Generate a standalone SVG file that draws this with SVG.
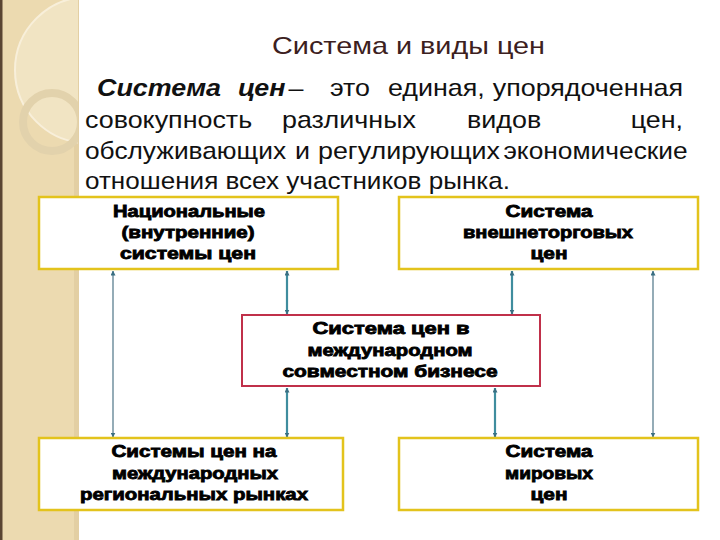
<svg xmlns="http://www.w3.org/2000/svg" width="720" height="540" viewBox="0 0 720 540">
<defs>
<style>
.para{font-family:"Liberation Sans",Arial,sans-serif;font-size:24px;fill:#111}
.bi{font-weight:bold;font-style:italic}
.end{text-anchor:end}
.title{font-family:"Liberation Sans",Arial,sans-serif;font-size:24px;fill:#3c2020}
.lbl{font-family:"Liberation Sans",Arial,sans-serif;font-size:16px;font-weight:bold;fill:#000;stroke:#000;stroke-width:0.8px;text-anchor:middle}
.box{fill:#fff;stroke:#e3c31c;stroke-width:2.5}
.boxr{fill:#fff;stroke:#c0304a;stroke-width:2}
.cthin{stroke:#4d7587;stroke-width:1.2;fill:none;marker-start:url(#ah);marker-end:url(#ah)}
.cthick{stroke:#3f8d9e;stroke-width:2.2;fill:none;marker-start:url(#ah);marker-end:url(#ah)}
</style>
<marker id="ah" viewBox="0 0 10 10" refX="9" refY="5" markerWidth="5" markerHeight="5" orient="auto-start-reverse" markerUnits="userSpaceOnUse">
<path d="M0,0 L10,5 L0,10 z" fill="#3a6f82"/>
</marker>
<clipPath id="band"><rect x="0" y="0" width="78" height="540"/></clipPath>
</defs>
<rect x="0" y="0" width="720" height="540" fill="#fff"/>
<g id="decor">
<rect x="0" y="0" width="78" height="540" fill="#ecdab0"/>
<rect x="74" y="0" width="5" height="540" fill="#e3cfa3"/>
<rect x="0" y="0" width="2.5" height="540" fill="#5a4532"/>
<g clip-path="url(#band)">
<circle cx="88" cy="70" r="73" fill="#f1e4c3" stroke="#f8efda" stroke-width="2"/>
<circle cx="52" cy="122" r="29" fill="none" stroke="#e2d2ac" stroke-width="8"/>
</g>
</g>
<g id="title">
<text class="title" x="272" y="54" textLength="273" lengthAdjust="spacingAndGlyphs">Система и виды цен</text>
</g>
<g id="definition" transform="scale(1.12,1)">
<text class="para bi" x="86.6" y="96">Система</text>
<text class="para bi" x="212.5" y="96">цен</text>
<text class="para" x="257.5" y="96">–</text>
<text class="para" x="294.6" y="96">это</text>
<text class="para" x="346.4" y="96">единая,</text>
<text class="para end" x="609.8" y="96">упорядоченная</text>
<text class="para" x="75.9" y="128">совокупность</text>
<text class="para" x="251.8" y="128">различных</text>
<text class="para" x="417" y="128">видов</text>
<text class="para end" x="609.8" y="128">цен,</text>
<text class="para" x="75.9" y="159" textLength="179.5" lengthAdjust="spacingAndGlyphs">обслуживающих</text>
<text class="para" x="263.4" y="159">и</text>
<text class="para" x="283.9" y="159" textLength="162.5" lengthAdjust="spacingAndGlyphs">регулирующих</text>
<text class="para" x="449.5" y="159" textLength="164.5" lengthAdjust="spacingAndGlyphs">экономические</text>
<text class="para" x="75.9" y="189" textLength="379.5" lengthAdjust="spacingAndGlyphs">отношения всех участников рынка.</text>
</g>
<g id="connectors">
<line class="cthin" x1="113" y1="271" x2="113" y2="437"/>
<line class="cthin" x1="653" y1="271" x2="653" y2="437"/>
<line class="cthick" x1="287" y1="271" x2="287" y2="314"/>
<line class="cthick" x1="512" y1="271" x2="512" y2="314"/>
<line class="cthick" x1="287" y1="388" x2="287" y2="437"/>
<line class="cthick" x1="495" y1="388" x2="495" y2="437"/>
</g>
<g id="national">
<rect class="box" x="39" y="197" width="299" height="72"/>
<text class="lbl" x="189" y="217" textLength="152" lengthAdjust="spacingAndGlyphs">Национальные</text>
<text class="lbl" x="188" y="238" textLength="133" lengthAdjust="spacingAndGlyphs">(внутренние)</text>
<text class="lbl" x="188" y="259" textLength="136" lengthAdjust="spacingAndGlyphs">системы цен</text>
</g>
<g id="foreign-trade">
<rect class="box" x="399" y="197" width="299" height="72"/>
<text class="lbl" x="549" y="217" textLength="87" lengthAdjust="spacingAndGlyphs">Система</text>
<text class="lbl" x="548" y="238" textLength="170" lengthAdjust="spacingAndGlyphs">внешнеторговых</text>
<text class="lbl" x="549" y="259" textLength="37" lengthAdjust="spacingAndGlyphs">цен</text>
</g>
<g id="joint-business">
<rect class="boxr" x="242" y="315" width="298" height="71"/>
<text class="lbl" x="391" y="334" textLength="157" lengthAdjust="spacingAndGlyphs">Система  цен в</text>
<text class="lbl" x="390" y="356" textLength="165" lengthAdjust="spacingAndGlyphs">международном</text>
<text class="lbl" x="390" y="377" textLength="215" lengthAdjust="spacingAndGlyphs">совместном бизнесе</text>
</g>
<g id="regional">
<rect class="box" x="39" y="438" width="304" height="72"/>
<text class="lbl" x="194" y="457" textLength="165" lengthAdjust="spacingAndGlyphs">Системы цен на</text>
<text class="lbl" x="195" y="479" textLength="166" lengthAdjust="spacingAndGlyphs">международных</text>
<text class="lbl" x="194" y="500" textLength="228" lengthAdjust="spacingAndGlyphs">региональных рынках</text>
</g>
<g id="world">
<rect class="box" x="399" y="438" width="299" height="72"/>
<text class="lbl" x="549" y="457" textLength="87" lengthAdjust="spacingAndGlyphs">Система</text>
<text class="lbl" x="549" y="479" textLength="88" lengthAdjust="spacingAndGlyphs">мировых</text>
<text class="lbl" x="549" y="500" textLength="37" lengthAdjust="spacingAndGlyphs">цен</text>
</g>
</svg>
